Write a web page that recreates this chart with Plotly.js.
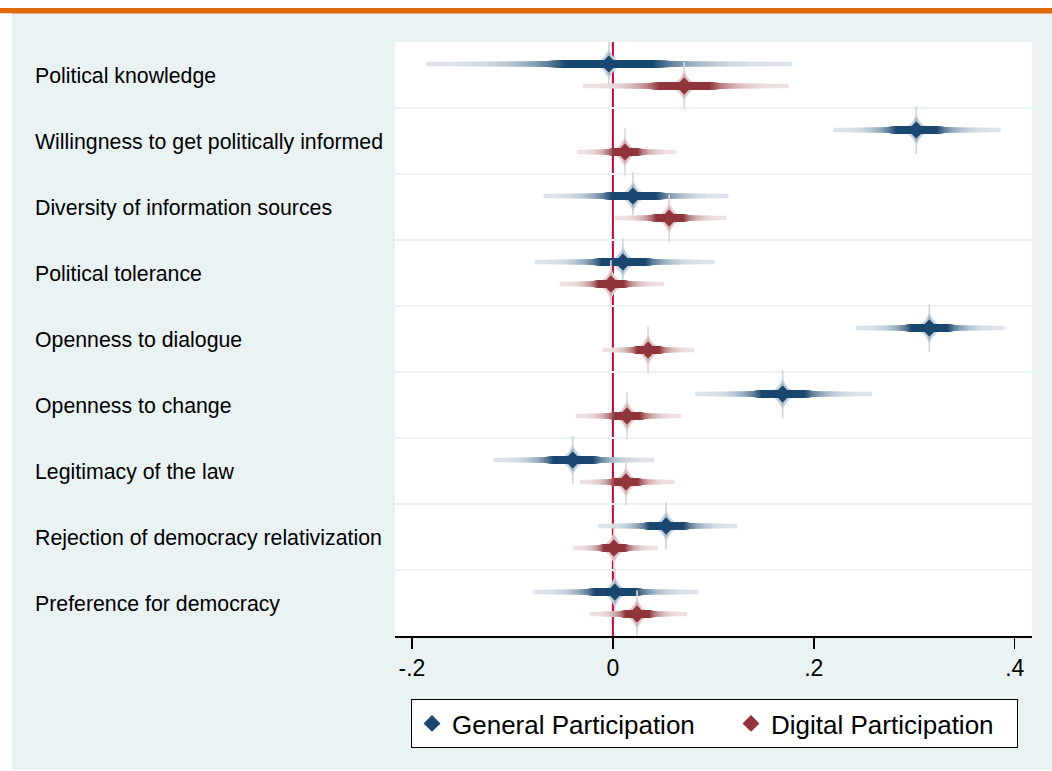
<!DOCTYPE html>
<html><head><meta charset="utf-8">
<script src="https://cdn.plot.ly/plotly-3.0.1.min.js"></script>
<style>html,body{margin:0;padding:0;background:#fff;} #chart{width:1052px;height:771px;}</style>
</head><body><div id="chart"></div>
<script>
const categories = [
  'Political knowledge',
  'Willingness to get politically informed',
  'Diversity of information sources',
  'Political tolerance',
  'Openness to dialogue',
  'Openness to change',
  'Legitimacy of the law',
  'Rejection of democracy relativization',
  'Preference for democracy'
];
const seriesNames = ['General Participation', 'Digital Participation'];
// point estimates and outer (99%) confidence bounds
const genCoef = [-0.004, 0.302, 0.020, 0.010, 0.315, 0.169, -0.040, 0.053, 0.002];
const genLo   = [-0.186, 0.2195, -0.069, -0.078, 0.242, 0.082, -0.119, -0.015, -0.080];
const genHi   = [0.178, 0.386, 0.115, 0.101, 0.389, 0.258, 0.041, 0.124, 0.086];
const digCoef = [0.071, 0.012, 0.056, -0.002, 0.035, 0.014, 0.013, 0.001, 0.024];
const digLo   = [-0.030, -0.036, 0.002, -0.053, -0.010, -0.037, -0.033, -0.040, -0.023];
const digHi   = [0.175, 0.063, 0.113, 0.051, 0.081, 0.068, 0.061, 0.045, 0.074];
const xTickVals = [-0.2, 0, 0.2, 0.4];
const xTickText = ['-.2', '0', '.2', '.4'];

const GEN_RGB = [26, 71, 111];
const DIG_RGB = [144, 53, 59];

function zq(p) { // two-sided coverage p -> z
  const q = (1 - p) / 2;
  const t = Math.sqrt(-2 * Math.log(q));
  return t - (2.515517 + 0.802853 * t + 0.010328 * t * t) /
             (1 + 1.432788 * t + 0.189269 * t * t + 0.001308 * t * t * t);
}
function clamp(v, a, b) { return Math.max(a, Math.min(b, v)); }
function mix(rgb, I) {
  return 'rgb(' + rgb.map(c => Math.round(255 - (255 - c) * I)).join(',') + ')';
}

function seriesTraces(name, coef, lo, hi, off, rgb) {
  const z99 = zq(0.99);
  const out = [];
  const ys = coef.map((c, i) => i + 1 + off);
  function segs(p) {
    const r = zq(p / 100) / z99;
    const xs = [], yy = [];
    coef.forEach((c, i) => {
      xs.push(c - (c - lo[i]) * r, c + (hi[i] - c) * r, null);
      yy.push(ys[i], ys[i], null);
    });
    return { xs, yy };
  }
  // light spike around the estimate (narrowest levels)
  out.push({ type: 'scatter', mode: 'markers', x: coef, y: ys, showlegend: false, hoverinfo: 'skip',
    marker: { symbol: 'line-ns', size: 34, line: { color: mix(rgb, 0.22), width: 1.6 } } });
  out.push({ type: 'scatter', mode: 'markers', x: coef, y: ys, showlegend: false, hoverinfo: 'skip',
    marker: { symbol: 'star-diamond', size: 24, color: mix(rgb, 0.24), line: { width: 0 } } });
  out.push({ type: 'scatter', mode: 'markers', x: coef, y: ys, showlegend: false, hoverinfo: 'skip',
    marker: { symbol: 'star-diamond', size: 18, color: mix(rgb, 0.42), line: { width: 0 } } });
  // graded confidence band
  for (let p = 99; p >= 41; p -= 2) {
    const s = segs(p);
    out.push({
      type: 'scatter', mode: 'lines', x: s.xs, y: s.yy, showlegend: false, hoverinfo: 'skip',
      line: { color: mix(rgb, 0.15 + 0.85 * Math.pow(clamp((99 - p) / 52, 0, 1), 1.25)),
              width: 4.5 + 3.5 * clamp((75 - p) / 25, 0, 1) }
    });
  }
  out.push({
    type: 'scatter', mode: 'markers', name: name, x: coef, y: ys,
    marker: { symbol: 'diamond', size: 13, color: mix(rgb, 1), line: { width: 0 } },
    showlegend: true
  });
  return out;
}

const genTraces = seriesTraces(seriesNames[0], genCoef, genLo, genHi, -0.167, GEN_RGB);
const digTraces = seriesTraces(seriesNames[1], digCoef, digLo, digHi, 0.167, DIG_RGB);
genTraces[genTraces.length - 1].legendwidth = 274;
digTraces[digTraces.length - 1].legendwidth = 241;
const data = genTraces.concat(digTraces);

const W = 1052, H = 771, L = 395, R = 20, T = 42, B = 135;
const pw = W - L - R, ph = H - T - B;
const px2x = v => (v - L) / pw;
const px2y = v => (H - B - v) / ph;

const shapes = [
  { type: 'rect', xref: 'paper', yref: 'paper', layer: 'below',
    x0: px2x(0), x1: px2x(W), y0: px2y(0), y1: px2y(8), fillcolor: '#ffffff', line: { width: 0 } },
  { type: 'rect', xref: 'paper', yref: 'paper', layer: 'below',
    x0: px2x(0), x1: px2x(W), y0: px2y(8), y1: px2y(13.5), fillcolor: '#e06a0c', line: { width: 0 } },
  { type: 'rect', xref: 'paper', yref: 'paper', layer: 'below',
    x0: px2x(0), x1: px2x(12), y0: px2y(13.5), y1: px2y(H), fillcolor: '#ffffff', line: { width: 0 } },
  { type: 'rect', xref: 'paper', yref: 'paper', layer: 'below',
    x0: px2x(0), x1: px2x(W), y0: px2y(770), y1: px2y(H), fillcolor: '#ffffff', line: { width: 0 } },
  { type: 'line', xref: 'x', yref: 'paper', layer: 'below',
    x0: 0, x1: 0, y0: 0, y1: 1, line: { color: '#c10534', width: 2 } }
];

const annotations = categories.map((c, i) => ({
  text: c, xref: 'paper', yref: 'y', x: px2x(33), y: i + 1, yshift: -1,
  xanchor: 'left', yanchor: 'middle', showarrow: false,
  font: { size: 21.3, color: '#000' }
}));

const layout = {
  width: W, height: H,
  margin: { l: L, r: R, t: T, b: B, pad: 0 },
  paper_bgcolor: '#eaf2f3', plot_bgcolor: '#ffffff',
  font: { family: '"Liberation Sans", Arial, sans-serif', color: '#000' },
  showlegend: true,
  xaxis: {
    range: [-0.2169, 0.4172], tickvals: xTickVals, ticktext: xTickText,
    ticks: 'outside', ticklen: 11, tickwidth: 1.5, tickcolor: '#000',
    showline: true, linecolor: '#000', linewidth: 1.5,
    showgrid: false, zeroline: false, tickfont: { size: 23, color: '#000' }
  },
  yaxis: {
    range: [9.5, 0.5], tickvals: [1.5, 2.5, 3.5, 4.5, 5.5, 6.5, 7.5, 8.5],
    showticklabels: false, ticks: '', showgrid: true, gridcolor: '#eaf2f3', gridwidth: 2,
    zeroline: false, showline: false
  },
  shapes: shapes,
  annotations: annotations,
  legend: {
    orientation: 'h', x: px2x(411), xanchor: 'left', y: px2y(699), yanchor: 'top',
    bgcolor: '#ffffff', bordercolor: '#000', borderwidth: 1,
    font: { size: 26, color: '#000' }
  }
};

Plotly.newPlot('chart', data, layout, { displayModeBar: false, staticPlot: true });
</script>
</body></html>
